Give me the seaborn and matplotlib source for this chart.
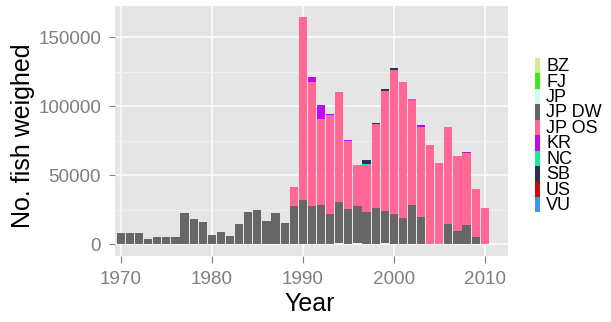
import matplotlib
matplotlib.use("Agg")
import matplotlib.pyplot as plt
import numpy as np
import pandas as pd
import seaborn as sns
from matplotlib.patches import Rectangle

# fish weighed per year and flag
years = list(range(1970, 2011))
flags = ['BZ', 'FJ', 'JP', 'JP DW', 'JP OS', 'KR', 'NC', 'SB', 'US', 'VU']
flag_colors = ['#cdf08e', '#3fe61e', '#d6f7f7', '#666666', '#ff6795',
               '#c108ee', '#1fe89a', '#2e2e5c', '#cc0a0a', '#3b96f5']

jp_dw = [8000, 8000, 8000, 4000, 5500, 5500, 4800, 22500, 17900, 16200,
         6800, 8700, 5800, 14500, 23200, 24900, 17100, 22200, 15500, 27500,
         31900, 27500, 28500, 21500, 29500, 25100, 26900, 23500, 25900, 23400,
         21700, 18900, 28500, 19300, 0, 0, 14500, 9400, 13500, 5100,
         0]
jp_os = [0, 0, 0, 0, 0, 0, 0, 0, 0, 0,
         0, 0, 0, 0, 0, 0, 0, 0, 0, 13800,
         132400, 90200, 62300, 71800, 79800, 49600, 29800, 33600, 60900, 86700,
         104400, 98800, 75700, 65300, 71800, 58700, 70300, 54600, 52300, 34800,
         25900]
jp = {1994: 700, 1996: 600, 1999: 800}
kr = {1991: 3300, 1992: 10400, 1993: 1200, 1995: 900, 2003: 1400, 2008: 900}
nc = {1997: 700}
sb = {1997: 2900, 1998: 900, 1999: 1700, 2000: 1300}
vu = {2002: 900}

y_ticks = [0, 50000, 100000, 150000]
y_minor = [25000, 75000, 125000]
x_ticks = [1970, 1980, 1990, 2000, 2010]

rows = []
for i, yr in enumerate(years):
    vals = {'BZ': 0, 'FJ': 0, 'JP': jp.get(yr, 0), 'JP DW': jp_dw[i],
            'JP OS': jp_os[i], 'KR': kr.get(yr, 0), 'NC': nc.get(yr, 0),
            'SB': sb.get(yr, 0), 'US': 0, 'VU': vu.get(yr, 0)}
    for f in flags:
        rows.append([yr, f, vals[f]])
df = pd.DataFrame(rows, columns=['Year', 'flag', 'n'])

W, H = 611, 322
fig = plt.figure(figsize=(W / 100, H / 100), dpi=100)
ax = fig.add_axes([115 / W, 1 - 255.5 / H, (507.5 - 115) / W, (255.5 - 6) / H])

# seaborn puts the first hue level on top, so reverse to stack BZ at the bottom
sns.histplot(data=df, x='Year', weights='n', hue='flag', hue_order=flags[::-1],
             palette=dict(zip(flags, flag_colors)), multiple='stack', discrete=True,
             shrink=0.9, linewidth=0, alpha=1, legend=False, ax=ax, zorder=3)

ax.set_facecolor('#e5e5e5')
for s in ax.spines.values():
    s.set_visible(False)
ax.set_xlim(1969.35, 2012.5)
ax.set_ylim(-8250, 172600)
ax.set_xticks(x_ticks)
ax.set_xticklabels([str(t) for t in x_ticks])
ax.set_yticks(y_ticks)
ax.set_yticklabels([str(t) for t in y_ticks])
ax.set_yticks(y_minor, minor=True)
ax.grid(which='major', color='white', linewidth=1.1, zorder=0)
ax.grid(which='minor', axis='y', color='#f3f3f3', linewidth=0.6, zorder=0)
ax.set_axisbelow(True)
ax.tick_params(which='major', width=0.8, color='#7f7f7f',
               labelcolor='#7f7f7f', labelsize=13.6)
ax.tick_params(axis='x', which='major', length=5, pad=6.5)
ax.tick_params(axis='y', which='major', length=4.5, pad=5.5)
ax.tick_params(which='minor', length=0)
for lab in ax.get_xticklabels() + ax.get_yticklabels():
    lab.set_fontfamily('Liberation Sans')
ax.set_xlabel('')
ax.set_ylabel('')

fig.text(310 / W, 1 - 304 / H, 'Year', ha='center', va='center',
         fontsize=18, family='Liberation Sans')
fig.text(23.5 / W, 1 - 136 / H, 'No. fish weighed', ha='center', va='center',
         rotation=90, fontsize=18, family='Liberation Sans')

# legend: narrow tall keys stacked without gaps
step = 15.45
for i, (f, c) in enumerate(zip(flags, flag_colors)):
    top = 58 + step * i
    fig.add_artist(Rectangle((535 / W, 1 - (top + step) / H), 5 / W, step / H,
                             transform=fig.transFigure, color=c, lw=0))
    fig.text(546 / W, 1 - (top + 8.6) / H, f, ha='left', va='center',
             fontsize=13, family='Liberation Sans')

fig.savefig('out.png', dpi=100)
